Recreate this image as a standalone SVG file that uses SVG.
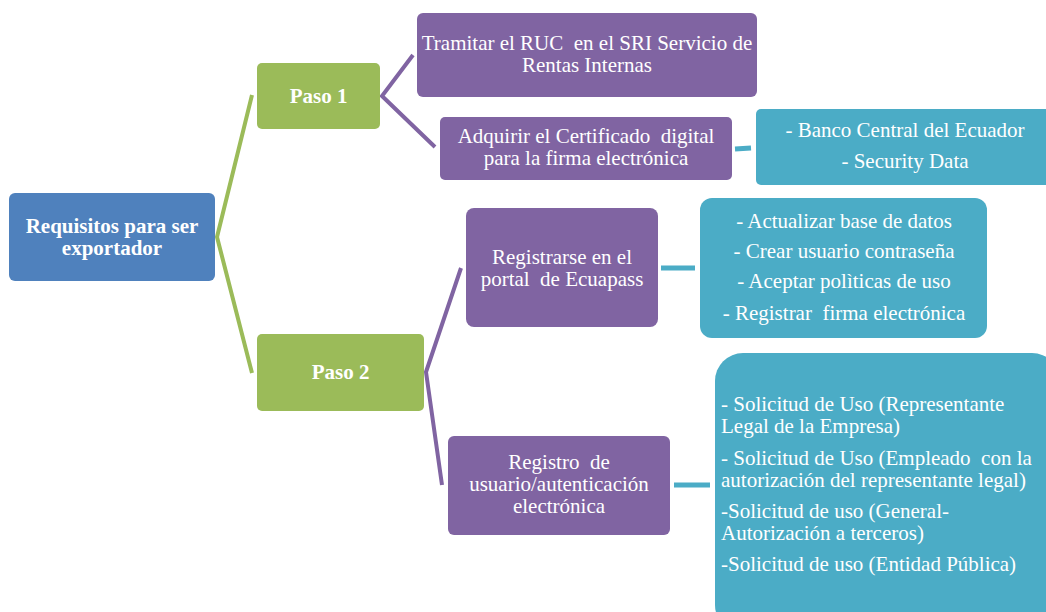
<svg xmlns="http://www.w3.org/2000/svg" width="1046" height="612" viewBox="0 0 1046 612">
  <style>
    .t { font-family: "Liberation Serif", "Times New Roman", serif; font-size: 21px; fill: #ffffff; white-space: pre; }
    .c { text-anchor: middle; }
    .b { font-weight: bold; }
    .root { fill: #4F81BD; }
    .step { fill: #9BBB59; }
    .task { fill: #8064A2; }
    .info { fill: #4BACC6; }
    .lg { fill: none; stroke: #9BBB59; stroke-width: 4; stroke-linejoin: miter; }
    .lp { fill: none; stroke: #8064A2; stroke-width: 4; stroke-linejoin: miter; }
    .lt { fill: none; stroke: #4BACC6; stroke-width: 5; }
  </style>
  <rect width="1046" height="612" fill="#ffffff"/>

  <g id="connectors">
    <polyline class="lg" points="252,95 217,237 252,373"/>
    <polyline class="lp" points="413,55 382,96 435,147"/>
    <polyline class="lp" points="461,268 426,372 442,485"/>
    <line class="lt" x1="735" y1="149" x2="751" y2="148"/>
    <line class="lt" x1="661" y1="268" x2="695" y2="268"/>
    <line class="lt" x1="674" y1="485" x2="710" y2="485"/>
  </g>

  <g id="root">
    <rect class="root" x="9" y="193" width="206" height="88" rx="6"/>
    <text class="t c b" x="112" y="233">Requisitos para ser</text>
    <text class="t c b" x="112" y="255">exportador</text>
  </g>

  <g id="paso1">
    <rect class="step" x="257" y="63" width="123" height="66" rx="5"/>
    <text class="t c b" x="318.5" y="103">Paso 1</text>
  </g>

  <g id="paso2">
    <rect class="step" x="257" y="334" width="167" height="77" rx="5"/>
    <text class="t c b" x="340.5" y="379">Paso 2</text>
  </g>

  <g id="ruc">
    <rect class="task" x="417" y="13" width="340" height="84" rx="6"/>
    <text class="t c" x="587" y="50" xml:space="preserve">Tramitar el RUC  en el SRI Servicio de</text>
    <text class="t c" x="587" y="72">Rentas Internas</text>
  </g>

  <g id="certificado">
    <rect class="task" x="440" y="117" width="292" height="63" rx="5"/>
    <text class="t c" x="586" y="143" xml:space="preserve">Adquirir el Certificado  digital</text>
    <text class="t c" x="586" y="165">para la firma electrónica</text>
  </g>

  <g id="proveedores">
    <rect class="info" x="756" y="109" width="300" height="76" rx="5"/>
    <text class="t c" x="905" y="137">- Banco Central del Ecuador</text>
    <text class="t c" x="905" y="168">- Security Data</text>
  </g>

  <g id="ecuapass">
    <rect class="task" x="466" y="208" width="192" height="119" rx="8"/>
    <text class="t c" x="562" y="264">Registrarse en el</text>
    <text class="t c" x="562" y="286" xml:space="preserve">portal  de Ecuapass</text>
  </g>

  <g id="pasos-ecuapass">
    <rect class="info" x="700" y="198" width="287" height="140" rx="12"/>
    <text class="t c" x="844" y="228">- Actualizar base de datos</text>
    <text class="t c" x="844" y="258">- Crear usuario contraseña</text>
    <text class="t c" x="844" y="288">- Aceptar polìticas de uso</text>
    <text class="t c" x="844" y="320" xml:space="preserve">- Registrar  firma electrónica</text>
  </g>

  <g id="registro">
    <rect class="task" x="448" y="436" width="222" height="99" rx="6"/>
    <text class="t c" x="559" y="469" xml:space="preserve">Registro  de</text>
    <text class="t c" x="559" y="491">usuario/autenticación</text>
    <text class="t c" x="559" y="513">electrónica</text>
  </g>

  <g id="solicitudes">
    <rect class="info" x="715" y="353" width="345" height="280" rx="28"/>
    <text class="t" x="721" y="411">- Solicitud de Uso (Representante</text>
    <text class="t" x="721" y="433">Legal de la Empresa)</text>
    <text class="t" x="721" y="465" xml:space="preserve">- Solicitud de Uso (Empleado  con la</text>
    <text class="t" x="721" y="487">autorización del representante legal)</text>
    <text class="t" x="721" y="518">-Solicitud de uso (General-</text>
    <text class="t" x="721" y="540">Autorización a terceros)</text>
    <text class="t" x="721" y="571">-Solicitud de uso (Entidad Pública)</text>
  </g>
</svg>
